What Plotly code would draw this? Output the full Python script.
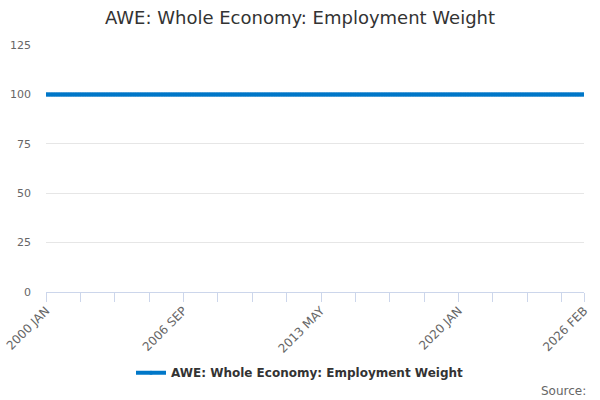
import plotly.graph_objects as go

month_names = ["JAN", "FEB", "MAR", "APR", "MAY", "JUN",
               "JUL", "AUG", "SEP", "OCT", "NOV", "DEC"]
months = [f"{y} {m}" for y in range(2000, 2027) for m in month_names][:314]

# employment weight, monthly 2000 JAN .. 2026 FEB (flat at 100)
weight = [100] * len(months)

tick_idx = list(range(0, 301, 20)) + [313]
labelled = ["2000 JAN", "2006 SEP", "2013 MAY", "2020 JAN", "2026 FEB"]
tick_vals = [months[i] for i in tick_idx]
tick_text = [m if m in labelled else "" for m in tick_vals]

y_ticks = [0, 25, 50, 75, 100, 125]

font = "DejaVu Sans, Lucida Grande, sans-serif"
series_name = "AWE: Whole Economy: Employment Weight"

fig = go.Figure()
fig.add_trace(go.Scatter(
    x=months, y=weight, name=series_name, mode="lines+markers",
    line=dict(color="#0077c8", width=4),
    marker=dict(color="#0077c8", size=4, symbol="circle"),
    showlegend=True,
))

fig.update_layout(
    width=600, height=400,
    margin=dict(l=46, r=16, t=45, b=108, autoexpand=False),
    paper_bgcolor="white", plot_bgcolor="white",
    font=dict(family=font, color="#666666", size=11),
    title=dict(text=series_name, x=0.5, xanchor="center", y=0.955, yanchor="middle",
               font=dict(family=font, size=18, color="#333333")),
    legend=dict(orientation="h", x=0.5, xanchor="center", xref="container",
                y=0.068, yanchor="middle", yref="container",
                font=dict(family=font, size=12, color="#333333", weight="bold"),
                itemwidth=30),
    showlegend=True,
    annotations=[dict(text="Source:", xref="paper", yref="paper", x=1.007, y=-0.40,
                      xanchor="right", yanchor="middle", showarrow=False,
                      font=dict(family=font, size=12, color="#666666"))],
)

fig.update_xaxes(
    type="category", range=[0, len(months) - 1], automargin=False,
    tickmode="array", tickvals=tick_vals, ticktext=tick_text,
    tickangle=-45, ticks="outside", ticklen=9, tickcolor="#ccd6eb",
    ticklabelstandoff=-3,
    showline=True, linecolor="#ccd6eb", linewidth=1,
    showgrid=False, zeroline=False,
    tickfont=dict(family=font, size=12, color="#666666"),
)
fig.update_yaxes(
    range=[0, 125], tickmode="array", tickvals=y_ticks, automargin=False,
    showgrid=True, gridcolor="#e6e6e6", gridwidth=1, zeroline=False,
    showline=False, ticks="", ticklabelstandoff=14,
    tickfont=dict(family=font, size=11, color="#666666"),
)

fig.write_html("out.html", config={"displayModeBar": False},
               post_script="document.body.style.margin='0';document.body.style.overflow='hidden';")
